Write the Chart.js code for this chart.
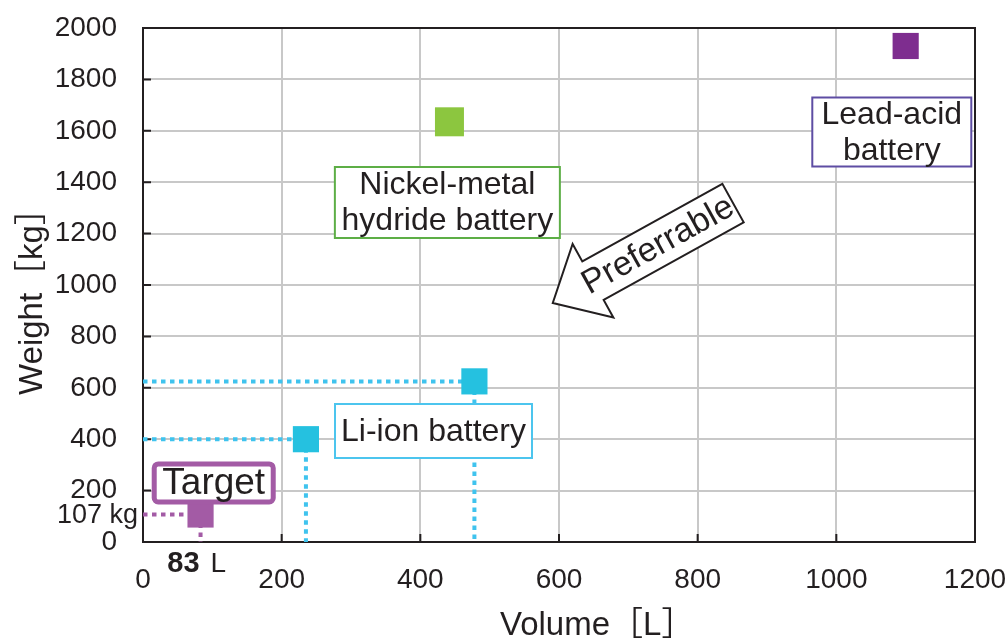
<!DOCTYPE html>
<html>
<head>
<meta charset="utf-8">
<script src="https://cdn.jsdelivr.net/npm/chart.js@4"></script>
<style>
  html, body { margin: 0; padding: 0; background: #fff; }
  #wrap { width: 1008px; height: 639px; }
</style>
</head>
<body>
<div id="wrap"><canvas id="chart"></canvas></div>
<script>
// Données
const seriesNames = ['Lead-acid battery', 'Nickel-metal hydride battery', 'Li-ion battery', 'Target'];
const leadVolume = [1100];
const leadWeight = [1930];
const nimhVolume = [442];
const nimhWeight = [1635];
const liionVolume = [235, 478];
const liionWeight = [400, 625];
const targetVolume = [83];
const targetWeight = [107];
const xTicks = [0, 200, 400, 600, 800, 1000, 1200];
const yTicks = [0, 200, 400, 600, 800, 1000, 1200, 1400, 1600, 1800, 2000];
const xTitle = 'Volume［L］';
const yTitle = 'Weight［kg］';

const FONT = '"Liberation Sans", Arial, "Noto Sans CJK JP", sans-serif';
const TEXT = '#231f20';
Chart.defaults.font.family = FONT;
Chart.defaults.color = TEXT;

const toPts = (xs, ys) => xs.map((x, i) => ({ x: x, y: ys[i] }));

// lignes pointillées de repère (vers les axes)
function guideLines(xs, ys, color) {
    const sets = [];
    xs.forEach((v, i) => {
        const w = ys[i];
        [[{ x: 0, y: w }, { x: v, y: w }], [{ x: v, y: w }, { x: v, y: 0 }]].forEach(seg => {
            sets.push({
                data: seg, showLine: true, borderColor: color, borderWidth: 4,
                borderDash: [4.5, 4.5], pointRadius: 0, borderCapStyle: 'butt', order: 5
            });
        });
    });
    return sets;
}

function marker(label, pts, color, r) {
    return {
        label: label, data: pts, pointStyle: 'rect', pointRadius: r, pointHoverRadius: r,
        backgroundColor: color, borderColor: color, borderWidth: 0, order: 1
    };
}

const boxes = [
    { x: 1080, y: 1595, w: 159, h: 69, lines: ['Lead-acid', 'battery'], color: '#5e4da3', lw: 2, size: 32, radius: 0 },
    { x: 439, y: 1321, w: 225, h: 71, lines: ['Nickel-metal', 'hydride battery'], color: '#5dae46', lw: 2, size: 32, radius: 0 },
    { x: 419, y: 432, w: 197, h: 54, lines: ['Li-ion battery'], color: '#4cc5ee', lw: 2, size: 32, radius: 0 },
    { x: 102, y: 230, w: 119, h: 38, lines: ['Target'], color: '#a35ba5', lw: 5, size: 37, radius: 4 }
];

const annotations = {
    id: 'annotations',
    beforeDatasetsDraw(chart) {
        const { ctx, chartArea: a, scales } = chart;
        ctx.save();
        ctx.strokeStyle = '#231f20';
        ctx.lineWidth = 2;
        // petites graduations vers l'intérieur
        ctx.beginPath();
        yTicks.slice(1, -1).forEach(t => {
            const y = scales.y.getPixelForValue(t);
            ctx.moveTo(a.left, y); ctx.lineTo(a.left + 8, y);
        });
        xTicks.slice(1, -1).forEach(t => {
            const x = scales.x.getPixelForValue(t);
            ctx.moveTo(x, a.bottom); ctx.lineTo(x, a.bottom - 8);
        });
        ctx.stroke();
        ctx.strokeRect(a.left, a.top, a.right - a.left, a.bottom - a.top);
        ctx.restore();
    },
    afterDatasetsDraw(chart) {
        const { ctx, chartArea: a, scales } = chart;
        ctx.save();
        boxes.forEach(b => {
            const cx = scales.x.getPixelForValue(b.x);
            const cy = scales.y.getPixelForValue(b.y);
            ctx.beginPath();
            ctx.roundRect(cx - b.w / 2, cy - b.h / 2, b.w, b.h, b.radius);
            ctx.fillStyle = '#fff';
            ctx.fill();
            ctx.lineWidth = b.lw;
            ctx.strokeStyle = b.color;
            ctx.stroke();
            ctx.fillStyle = TEXT;
            ctx.font = b.size + 'px ' + FONT;
            ctx.textAlign = 'center';
            ctx.textBaseline = 'middle';
            const lh = 36;
            b.lines.forEach((t, i) => {
                ctx.fillText(t, cx, cy + (i - (b.lines.length - 1) / 2) * lh + 1);
            });
        });

        // flèche "Preferrable"
        const tx = scales.x.getPixelForValue(591), ty = scales.y.getPixelForValue(930);
        const ex = scales.x.getPixelForValue(851), ey = scales.y.getPixelForValue(1319);
        const ang = Math.atan2(ey - ty, ex - tx);
        const L = Math.hypot(ex - tx, ey - ty);
        ctx.translate(tx, ty);
        ctx.rotate(ang);
        ctx.beginPath();
        ctx.moveTo(0, 0);
        ctx.lineTo(46, -42);
        ctx.lineTo(46, -22);
        ctx.lineTo(L, -22);
        ctx.lineTo(L, 22);
        ctx.lineTo(46, 22);
        ctx.lineTo(46, 42);
        ctx.closePath();
        ctx.fillStyle = '#fff';
        ctx.fill();
        ctx.lineWidth = 2;
        ctx.strokeStyle = '#231f20';
        ctx.lineJoin = 'miter';
        ctx.stroke();
        ctx.fillStyle = TEXT;
        ctx.font = '34px ' + FONT;
        ctx.textAlign = 'center';
        ctx.textBaseline = 'middle';
        ctx.fillText('Preferrable', 120, 1);
        ctx.restore();

        // libellés de la cible
        ctx.save();
        ctx.fillStyle = TEXT;
        ctx.textBaseline = 'middle';
        const px = scales.x.getPixelForValue(targetVolume[0]);
        const py = scales.y.getPixelForValue(targetWeight[0]);
        ctx.font = 'bold 29px ' + FONT;
        ctx.textAlign = 'right';
        ctx.fillText(String(targetVolume[0]), px - 1, a.bottom + 22);
        ctx.font = '28px ' + FONT;
        ctx.textAlign = 'left';
        ctx.fillText('L', px + 10, a.bottom + 22);
        ctx.font = '27px ' + FONT;
        ctx.textAlign = 'right';
        ctx.fillText(targetWeight[0] + ' kg', a.left - 5, py + 1);

        // titres des axes
        ctx.font = '33px ' + FONT;
        ctx.textAlign = 'left';
        ctx.textBaseline = 'alphabetic';
        ctx.fillText(xTitle, 500, 635);
        ctx.translate(42, 395);
        ctx.rotate(-Math.PI / 2);
        ctx.fillText(yTitle, 0, 0);
        ctx.restore();
    }
};

const ctx = document.getElementById('chart').getContext('2d');
new Chart(ctx, {
    type: 'scatter',
    data: {
        datasets: [
            ...guideLines(liionVolume, liionWeight, '#3fc3ee'),
            ...guideLines(targetVolume, targetWeight, '#a35ba5'),
            marker(seriesNames[0], toPts(leadVolume, leadWeight), '#7e2d8f', 18.5),
            marker(seriesNames[1], toPts(nimhVolume, nimhWeight), '#8cc63f', 20.5),
            marker(seriesNames[2], toPts(liionVolume, liionWeight), '#25c1e0', 18.5),
            marker(seriesNames[3], toPts(targetVolume, targetWeight), '#a35ba5', 18.5)
        ]
    },
    options: {
        responsive: true,
        maintainAspectRatio: false,
        animation: false,
        layout: { padding: { top: 28, right: 33, left: 0, bottom: 0 } },
        plugins: { legend: { display: false }, tooltip: { enabled: false } },
        scales: {
            x: {
                type: 'linear', min: 0, max: 1200,
                afterBuildTicks: s => { s.ticks = xTicks.map(v => ({ value: v })); },
                afterFit: s => { s.height = 97; s.paddingLeft = 0; s.paddingRight = 0; },
                grid: { color: '#c8c8c8', lineWidth: 2, drawTicks: false },
                border: { display: false },
                ticks: { padding: 21, font: { size: 28 }, color: TEXT, maxRotation: 0, callback: v => String(v) },
                title: { display: false }
            },
            y: {
                type: 'linear', min: 0, max: 2000,
                afterBuildTicks: s => { s.ticks = yTicks.map(v => ({ value: v })); },
                afterFit: s => { s.width = 143; s.paddingTop = 0; s.paddingBottom = 0; },
                grid: { color: '#c8c8c8', lineWidth: 2, drawTicks: false },
                border: { display: false },
                ticks: { padding: 26, font: { size: 28 }, color: TEXT, callback: v => String(v) },
                title: { display: false }
            }
        }
    },
    plugins: [annotations]
});
</script>
</body>
</html>
